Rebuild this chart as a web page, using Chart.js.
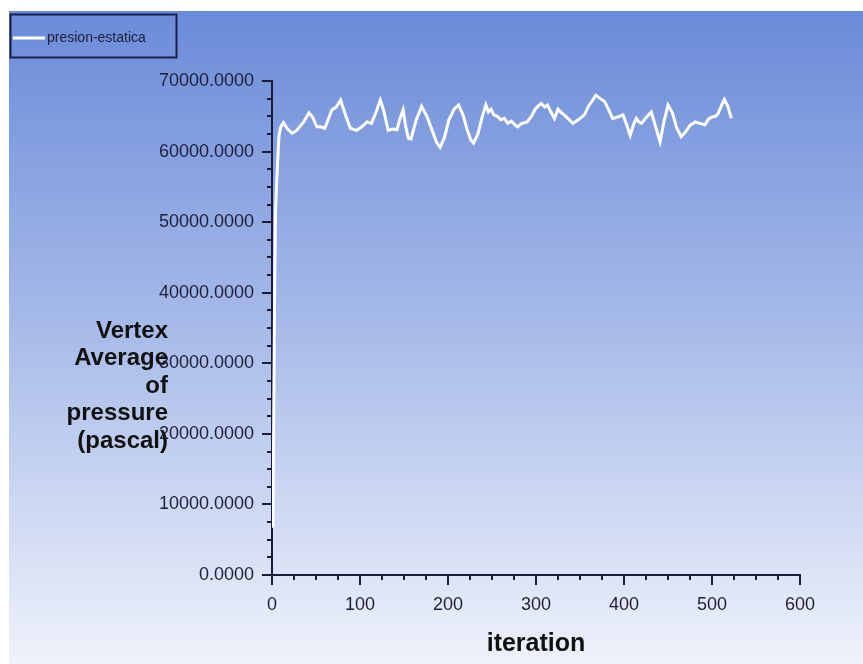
<!DOCTYPE html>
<html>
<head>
<meta charset="utf-8">
<script src="https://cdn.jsdelivr.net/npm/chart.js@4.4.1/dist/chart.umd.min.js"></script>
<style>
  html, body { margin: 0; padding: 0; background: #fff; }
</style>
</head>
<body>
<canvas id="canvas" width="863" height="664"></canvas>
<script>
const seriesName = "presion-estatica";
const xTitle = "iteration";
const yTitleLines = ["Vertex", "Average", "of", "pressure", "(pascal)"];

const iterations = [
  1, 2, 3, 4, 5, 6, 7, 8, 10, 13, 17, 23, 28, 36, 42, 46, 51, 55, 60, 68,
  73, 78, 80, 84, 89, 96, 102, 108, 113, 118, 123, 127, 132, 137, 142, 145,
  149, 152, 155, 158, 164, 170, 176, 182, 187, 191, 196, 201, 207, 212, 217,
  222, 226, 229, 234, 239, 243, 246, 249, 252, 256, 260, 264, 268, 272, 276,
  279, 284, 290, 295, 299, 302, 306, 310, 313, 317, 321, 325, 328, 332, 337,
  342, 348, 355, 360, 364, 368, 373, 378, 383, 387, 393, 399, 403, 407, 411,
  414, 417, 420, 425, 431, 436, 441, 445, 450, 455, 460, 465, 470, 475, 481,
  486, 492, 496, 500, 504, 507, 511, 514, 518, 522
];
const pressure = [
  6700, 23000, 40400, 51300, 55000, 57400, 60000, 62300, 63500, 64100, 63300,
  62600, 63000, 64200, 65500, 64900, 63500, 63500, 63300, 65900,
  66300, 67300, 66500, 65000, 63300, 63000, 63500, 64200, 64000, 65500, 67300,
  65800, 63000, 63200, 63100, 64500,
  65900, 63500, 61900, 61800, 64500, 66400, 65000, 63000, 61300, 60600, 62000,
  64500, 66000, 66600, 65200,
  63000, 61600, 61200, 62500, 65000, 66600, 65600, 66000, 65200, 65000, 64500,
  64700, 64000, 64300, 63800,
  63500, 64000, 64200, 65000, 66000, 66400, 66800, 66300, 66600, 65600, 64700,
  66000, 65600, 65200, 64600,
  64000, 64500, 65200, 66500, 67200, 68000, 67500, 67100, 65800, 64700, 64900,
  65200, 63800, 62300, 63900,
  64700, 64200, 64000, 64800, 65600, 63500, 61400, 64000, 66600, 65500, 63300,
  62100, 62800, 63700, 64200,
  64000, 63800, 64600, 64900, 65000, 65400, 66600, 67400, 66400, 64700
];

const axisColor = "#1b1c38";
const labelColor = "#1e1f3c";
const tickFont = { family: "'Liberation Sans', Arial, sans-serif", size: 18 };

// gradient backdrop, minor ticks, multi-line y title and framed legend
const decor = {
  id: "decor",
  beforeDraw(chart) {
    const { ctx, width, height } = chart;
    ctx.save();
    ctx.fillStyle = "#ffffff";
    ctx.fillRect(0, 0, width, height);
    const g = ctx.createLinearGradient(0, 11, 0, height);
    g.addColorStop(0, "#6b8bd9");
    g.addColorStop(0.5, "#a9bce9");
    g.addColorStop(1, "#eff2fb");
    ctx.fillStyle = g;
    ctx.fillRect(9, 11, width - 9, height - 11);
    ctx.restore();
  },
  afterDraw(chart) {
    const { ctx } = chart;
    const xs = chart.scales.x;
    const ys = chart.scales.y;
    ctx.save();
    ctx.strokeStyle = axisColor;
    ctx.lineWidth = 2;
    ctx.beginPath();
    for (let v = ys.min; v <= ys.max; v += 2500) {
      const py = Math.round(ys.getPixelForValue(v));
      const len = v % 10000 === 0 ? 10 : 5;
      ctx.moveTo(xs.left - len, py);
      ctx.lineTo(xs.left, py);
    }
    for (let v = xs.min; v <= xs.max; v += 25) {
      const px = Math.round(xs.getPixelForValue(v));
      const len = v % 100 === 0 ? 10 : 5;
      ctx.moveTo(px, ys.bottom);
      ctx.lineTo(px, ys.bottom + len);
    }
    ctx.stroke();

    ctx.fillStyle = "#111111";
    ctx.font = "bold 24px 'Liberation Sans', Arial, sans-serif";
    ctx.textAlign = "right";
    ctx.textBaseline = "middle";
    yTitleLines.forEach((t, i) => ctx.fillText(t, 168, 331 + i * 27.5));

    ctx.strokeStyle = "#1a1f4a";
    ctx.lineWidth = 2;
    ctx.strokeRect(10.5, 14.5, 166, 43);
    ctx.strokeStyle = "#ffffff";
    ctx.lineWidth = 3;
    ctx.beginPath();
    ctx.moveTo(13, 38);
    ctx.lineTo(45, 38);
    ctx.stroke();
    ctx.fillStyle = labelColor;
    ctx.font = "14px 'Liberation Sans', Arial, sans-serif";
    ctx.textAlign = "left";
    ctx.fillText(seriesName, 47, 38);
    ctx.restore();
  }
};

const canvas = document.getElementById("canvas");
const myChart = new Chart(canvas, {
  type: "line",
  data: {
    datasets: [{
      label: seriesName,
      data: iterations.map((x, i) => ({ x, y: pressure[i] })),
      borderColor: "#ffffff",
      borderWidth: 3,
      pointRadius: 0,
      tension: 0,
      fill: false
    }]
  },
  options: {
    responsive: false,
    devicePixelRatio: 1,
    animation: false,
    layout: { padding: { top: 81, right: 63, left: 0, bottom: 0 } },
    plugins: {
      legend: { display: false },
      tooltip: { enabled: false }
    },
    scales: {
      x: {
        type: "linear",
        min: 0,
        max: 600,
        afterFit: (s) => { s.height = 89; },
        ticks: { stepSize: 100, color: labelColor, font: tickFont, padding: 19 },
        grid: { display: true, drawOnChartArea: false, drawTicks: false },
        border: { color: axisColor, width: 2 },
        title: {
          display: true,
          text: xTitle,
          color: "#111111",
          font: { family: "'Liberation Sans', Arial, sans-serif", size: 25, weight: "bold" },
          padding: { top: 0, bottom: 5 }
        }
      },
      y: {
        min: 0,
        max: 70000,
        afterFit: (s) => { s.width = 272; },
        ticks: {
          stepSize: 10000,
          color: labelColor,
          font: tickFont,
          padding: 18,
          callback: (v) => v.toFixed(4)
        },
        grid: { display: true, drawOnChartArea: false, drawTicks: false },
        border: { color: axisColor, width: 2 }
      }
    }
  },
  plugins: [decor]
});
</script>
</body>
</html>
